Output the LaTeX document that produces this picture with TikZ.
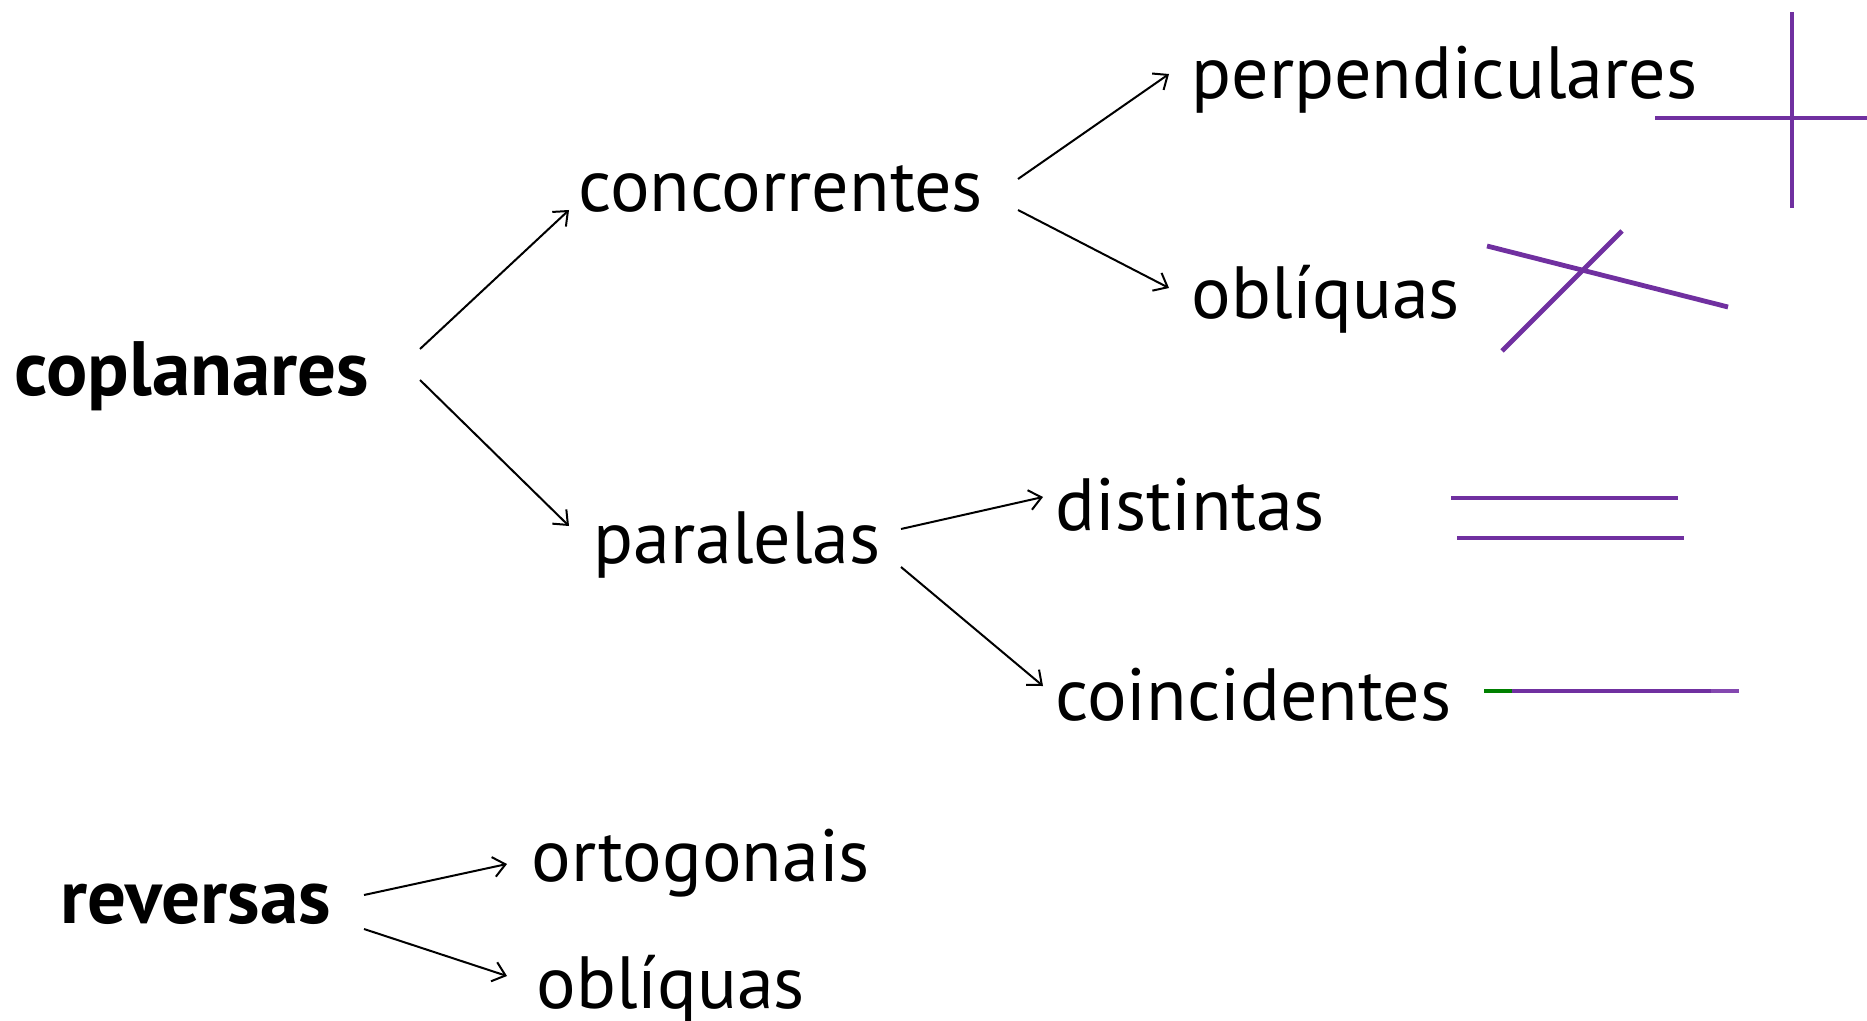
\documentclass[tikz,border=0pt]{standalone}
\usepackage{fontspec}
\setmainfont{PT Sans}
\usetikzlibrary{arrows.meta}
\definecolor{lpurple}{HTML}{7030A0}
\definecolor{lpurplelight}{HTML}{8448B0}
\definecolor{lgreen}{HTML}{008000}
\tikzset{
  lbl/.style={inner sep=0pt, anchor=base west, font=\fontsize{37}{44}\selectfont},
  blbl/.style={lbl, font=\fontsize{38.5}{46}\selectfont\bfseries},
  arr/.style={line width=1pt, -{Straight Barb[length=6pt,width=10pt]}},
  figline/.style={line width=2.4pt, lpurple}
}
\begin{document}
\begin{tikzpicture}[x=0.5pt,y=-0.5pt]
\useasboundingbox (0,0) rectangle (1867,1021);
% labels
\node[blbl] (coplanares) at (14,395) {coplanares};
\node[lbl] (concorrentes) at (578,212) {concorrentes};
\node[lbl] (perpendiculares) at (1191,99) {perpendiculares};
\node[lbl] (obliquas1) at (1191,319) {oblíquas};
\node[lbl] (paralelas) at (593,563) {paralelas};
\node[lbl] (distintas) at (1055,530) {distintas};
\node[lbl] (coincidentes) at (1055,720) {coincidentes};
\node[blbl] (reversas) at (60,923) {reversas};
\node[lbl] (ortogonais) at (531,881) {ortogonais};
\node[lbl] (obliquas2) at (536,1008) {oblíquas};
% arrow end points
\coordinate (cop-a) at (420,349);  \coordinate (con-in) at (569,210);
\coordinate (cop-b) at (420,380);  \coordinate (par-in) at (569,526);
\coordinate (con-a) at (1018,179); \coordinate (per-in) at (1169,74);
\coordinate (con-b) at (1018,210); \coordinate (obl1-in) at (1169,288);
\coordinate (par-a) at (901,529);  \coordinate (dis-in) at (1043,497);
\coordinate (par-b) at (901,567);  \coordinate (coi-in) at (1043,686);
\coordinate (rev-a) at (364,895);  \coordinate (ort-in) at (507,864);
\coordinate (rev-b) at (364,929);  \coordinate (obl2-in) at (507,976);
\draw[arr] (cop-a) -- (con-in);
\draw[arr] (cop-b) -- (par-in);
\draw[arr] (con-a) -- (per-in);
\draw[arr] (con-b) -- (obl1-in);
\draw[arr] (par-a) -- (dis-in);
\draw[arr] (par-b) -- (coi-in);
\draw[arr] (rev-a) -- (ort-in);
\draw[arr] (rev-b) -- (obl2-in);
% figures
\draw[figline] (1792,12) -- (1792,208);
\draw[figline] (1655,118) -- (1867,118);
\draw[figline] (1487,246) -- (1728,307);
\draw[figline] (1622,231) -- (1502,351);
\draw[figline] (1451,498) -- (1678,498);
\draw[figline] (1457,538) -- (1684,538);
\draw[figline, lgreen] (1484,691) -- (1512,691);
\draw[figline] (1512,691) -- (1711,691);
\draw[figline, lpurplelight] (1711,691) -- (1739,691);
\end{tikzpicture}
\end{document}
